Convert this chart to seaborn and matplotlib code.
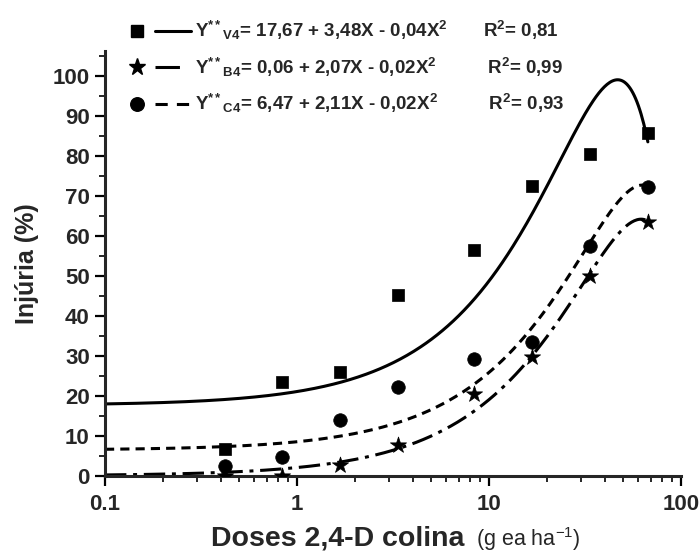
import numpy as np
import pandas as pd
import matplotlib
matplotlib.use("Agg")
import matplotlib.pyplot as plt
import seaborn as sns
from matplotlib.lines import Line2D
from matplotlib.legend_handler import HandlerTuple
from matplotlib.ticker import MultipleLocator, LogLocator, NullFormatter

# doses (g ea ha-1) and injury (%)
doses = [0.42, 0.84, 1.68, 3.36, 8.4, 16.8, 33.6, 67.2]
injury_v4 = [6.8, 23.6, 26.1, 45.3, 56.5, 72.5, 80.4, 85.8]
injury_b4 = [0.0, 0.0, 2.8, 7.8, 20.4, 29.8, 50.0, 63.4]
injury_c4 = [2.6, 4.7, 14.0, 22.3, 29.3, 33.6, 57.6, 72.3]

# quadratic fits (a + bX + cX^2), c kept unrounded so the curves follow the figure
coef_v4 = [17.67, 3.48, -0.0372]
coef_b4 = [0.06, 2.07, -0.0167]
coef_c4 = [6.47, 2.11, -0.0168]

labels = [
    r"Y$^{\mathbf{**}}$$_{\mathbf{V4}}$= 17,67 + 3,48X - 0,04X$^{\mathbf{2}}$       R$^{\mathbf{2}}$= 0,81",
    r"Y$^{\mathbf{**}}$$_{\mathbf{B4}}$= 0,06 + 2,07X - 0,02X$^{\mathbf{2}}$          R$^{\mathbf{2}}$= 0,99",
    r"Y$^{\mathbf{**}}$$_{\mathbf{C4}}$= 6,47 + 2,11X - 0,02X$^{\mathbf{2}}$          R$^{\mathbf{2}}$= 0,93",
]

sns.set_style("ticks")
plt.rcParams["font.family"] = ["Liberation Sans", "DejaVu Sans"]
plt.rcParams["mathtext.fontset"] = "custom"
plt.rcParams["mathtext.rm"] = "Liberation Sans"
plt.rcParams["mathtext.it"] = "Liberation Sans"
plt.rcParams["mathtext.bf"] = "Liberation Sans:bold"

fig = plt.figure(figsize=(6.99, 5.54), dpi=100)
ax = fig.add_axes([105 / 699, 78 / 554, 576 / 699, 425 / 554])

lw = 2.2
styles = {
    "V4": dict(coef=coef_v4, y=injury_v4, marker="s", s=80, ls="-"),
    "B4": dict(coef=coef_b4, y=injury_b4, marker="*", s=150, ls=(0, (7, 2.2, 1.3, 2.2))),
    "C4": dict(coef=coef_c4, y=injury_c4, marker="o", s=95, ls=(0, (3, 2))),
}

xfit = np.geomspace(0.1, max(doses), 400)
for name, st in styles.items():
    a, b, c = st["coef"]
    fit = pd.DataFrame({"x": xfit, "y": a + b * xfit + c * xfit ** 2})
    sns.lineplot(data=fit, x="x", y="y", ax=ax, color="black", lw=lw,
                 linestyle=st["ls"], zorder=2)
    pts = pd.DataFrame({"x": doses, "y": st["y"]})
    sns.scatterplot(data=pts, x="x", y="y", ax=ax, color="black",
                    marker=st["marker"], s=st["s"], edgecolor="black",
                    linewidth=0.5, zorder=3)

ax.set_xscale("log")
ax.set_xlim(0.1, 100)
ax.set_ylim(0, 106.25)
ax.set_xticks([0.1, 1, 10, 100])
ax.set_xticklabels(["0.1", "1", "10", "100"])
ax.xaxis.set_minor_locator(LogLocator(base=10, subs=np.arange(2, 10)))
ax.xaxis.set_minor_formatter(NullFormatter())
ax.yaxis.set_major_locator(MultipleLocator(10))
ax.yaxis.set_minor_locator(MultipleLocator(5))
ax.set_yticks(np.arange(0, 101, 10))

sns.despine(ax=ax)
for sp in ["left", "bottom"]:
    ax.spines[sp].set_linewidth(2.2)
ax.tick_params(which="major", length=7, width=1.6, direction="out",
               labelsize=16, pad=4, color="black")
ax.tick_params(axis="x", which="major", pad=6)
ax.tick_params(which="minor", length=4, width=1.4, direction="out")
for t in ax.get_xticklabels() + ax.get_yticklabels():
    t.set_fontweight("bold")

ax.set_xlabel("")
ax.set_ylabel("Injúria (%)", fontsize=18, fontweight="bold", labelpad=10)

fig.text(472 / 699, 8 / 554, "Doses 2,4-D colina ", ha="right", va="baseline",
         fontsize=20.5, fontweight="bold")
fig.text(476 / 699, 8 / 554, "(g ea ha$^{-1}$)", ha="left", va="baseline",
         fontsize=15.5, fontweight="normal")

fs = 13.5
handles = []
leg_ls = {"V4": "-", "B4": (0, (8, 10)), "C4": (0, (4, 3))}
for name, st in styles.items():
    mk = Line2D([], [], marker=st["marker"], ls="none", color="black",
                ms=np.sqrt(st["s"]))
    ln = Line2D([], [], ls=leg_ls[name], lw=lw, color="black")
    handles.append((mk, ln))

fig.legend(handles, labels, loc="upper left",
           bbox_to_anchor=(119 / 699, 1 - 19 / 554), frameon=False,
           borderpad=0, borderaxespad=0, handlelength=72 / (fs * 100 / 72),
           handletextpad=0.2, labelspacing=0.72,
           prop={"weight": "bold", "size": fs},
           handler_map={tuple: HandlerTuple(ndivide=None, pad=0)})

fig.savefig("out.png", dpi=100)
